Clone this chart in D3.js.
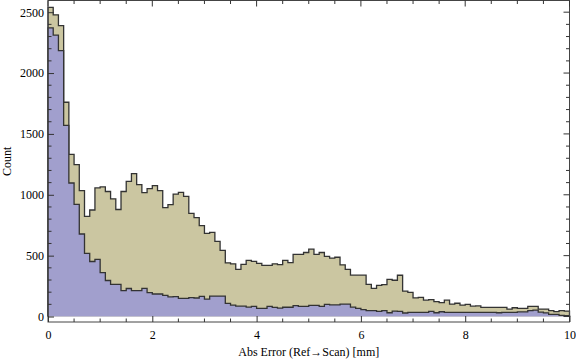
<!DOCTYPE html>
<html lang="en">
<head>
    <meta charset="UTF-8">
    <title>Abs Error histogram</title>
    <script src="https://d3js.org/d3.v7.min.js"></script>
    <style type="text/css">
        body { margin: 0; background: white; }
        text { font-family: "Liberation Serif", "DejaVu Serif", serif; fill: #000; }
    </style>
</head>
<body>
<script type="text/javascript">

    // histogram bins: 0.1 mm wide, starting at 0
    const binWidth = 0.1;

    // tan (all points)
    const countsAll = [
        2540, 2478, 2390, 1760, 1332, 1248, 1035, 822, 875, 1056,
        1065, 1027, 967, 879, 1027, 1110, 1174, 1084, 1018, 1051,
        1076, 1035, 895, 920, 1006, 1020, 987, 848, 812, 747,
        683, 692, 617, 544, 441, 433, 388, 428, 461, 453,
        436, 420, 420, 433, 426, 461, 442, 510, 510, 526,
        553, 510, 526, 494, 480, 487, 425, 387, 340, 340,
        340, 264, 231, 256, 262, 305, 298, 339, 209, 198,
        153, 158, 134, 138, 122, 114, 134, 102, 109, 94,
        100, 85, 87, 75, 75, 75, 75, 75, 61, 72,
        67, 67, 84, 84, 61, 61, 48, 40, 48, 45
    ];

    // blue (subset)
    const countsSub = [
        2371, 2311, 2185, 1570, 1097, 921, 678, 518, 452, 470,
        360, 296, 264, 264, 213, 230, 213, 213, 231, 197,
        185, 185, 174, 161, 164, 149, 149, 155, 152, 166,
        143, 168, 168, 168, 108, 93, 85, 85, 77, 84,
        67, 67, 84, 75, 69, 76, 76, 90, 84, 84,
        92, 92, 84, 100, 95, 95, 102, 102, 77, 67,
        56, 48, 48, 43, 48, 31, 44, 42, 29, 34,
        34, 34, 34, 42, 31, 39, 34, 34, 34, 34,
        34, 34, 34, 34, 34, 34, 31, 34, 34, 34,
        38, 38, 48, 53, 36, 30, 18, 18, 10, 7
    ];

    const xTicks = [0, 2, 4, 6, 8, 10];
    const yTicks = [0, 500, 1000, 1500, 2000, 2500];

    const width = 576, height = 362;
    const pLeft = 48, pRight = 569.5, pTop = 0.5, pBottom = 322;

    const svg = d3.select("body").append("svg")
        .attr("width", width)
        .attr("height", height);

    const x = d3.scaleLinear().domain([0, 10]).range([pLeft, pRight]);
    const y = d3.scaleLinear().domain([-45, 2596]).range([pBottom, pTop]);

    // step outline as an area
    function stepPoints(counts) {
        const pts = [];
        counts.forEach(function(c, i) {
            pts.push([i * binWidth, c]);
            pts.push([(i + 1) * binWidth, c]);
        });
        return pts;
    }

    function drawHist(counts, fill) {
        const pts = stepPoints(counts);
        const area = d3.area()
            .x(d => x(d[0]))
            .y0(y(0))
            .y1(d => y(d[1]));
        const line = d3.line()
            .x(d => x(d[0]))
            .y(d => y(d[1]));
        svg.append("path")
            .attr("d", area(pts))
            .attr("fill", fill);
        // close the outline down to the baseline at both ends
        const outline = [[0, 0]].concat(pts, [[pts[pts.length - 1][0], 0]]);
        svg.append("path")
            .attr("d", line(outline))
            .attr("fill", "none")
            .attr("stroke", "#333")
            .attr("stroke-width", 1.3);
    }

    drawHist(countsAll, "#cbc6a1");
    drawHist(countsSub, "#a19fcd");

    // frame
    svg.append("rect")
        .attr("x", pLeft)
        .attr("y", pTop)
        .attr("width", pRight - pLeft)
        .attr("height", pBottom - pTop)
        .attr("fill", "none")
        .attr("stroke", "#444")
        .attr("stroke-width", 1);

    // x ticks (major every 2, minor every 0.5), bottom and top
    const xAxisB = d3.axisBottom(x).tickValues(xTicks).tickSize(-6).tickFormat(d3.format("d"));
    const xMinor = d3.range(0, 10.01, 0.5).filter(v => v % 2 !== 0);

    const gxb = svg.append("g").attr("transform", `translate(0,${pBottom})`).call(xAxisB);
    gxb.select(".domain").remove();
    gxb.selectAll("text").attr("y", 8).style("font-size", "12px");
    gxb.selectAll("line").attr("stroke", "#333");
    gxb.selectAll(".minor").data(xMinor).enter().append("line")
        .attr("x1", d => x(d)).attr("x2", d => x(d))
        .attr("y1", 0).attr("y2", -3.5).attr("stroke", "#333");

    const gxt = svg.append("g").attr("transform", `translate(0,${pTop})`);
    gxt.selectAll(".maj").data(xTicks).enter().append("line")
        .attr("x1", d => x(d)).attr("x2", d => x(d))
        .attr("y1", 0).attr("y2", 6).attr("stroke", "#333");
    gxt.selectAll(".min").data(xMinor).enter().append("line")
        .attr("x1", d => x(d)).attr("x2", d => x(d))
        .attr("y1", 0).attr("y2", 3.5).attr("stroke", "#333");

    // y ticks (major every 500, minor every 100), left and right
    const yMinor = d3.range(0, 2600, 100).filter(v => v % 500 !== 0);
    const yAxisL = d3.axisLeft(y).tickValues(yTicks).tickSize(-6).tickFormat(d3.format("d"));
    const gyl = svg.append("g").attr("transform", `translate(${pLeft},0)`).call(yAxisL);
    gyl.select(".domain").remove();
    gyl.selectAll("text").attr("x", -4).style("font-size", "12px");
    gyl.selectAll("line").attr("stroke", "#333");
    gyl.selectAll(".minor").data(yMinor).enter().append("line")
        .attr("x1", 0).attr("x2", 3.5)
        .attr("y1", d => y(d)).attr("y2", d => y(d)).attr("stroke", "#333");

    const gyr = svg.append("g").attr("transform", `translate(${pRight},0)`);
    gyr.selectAll(".maj").data(yTicks).enter().append("line")
        .attr("x1", 0).attr("x2", -6)
        .attr("y1", d => y(d)).attr("y2", d => y(d)).attr("stroke", "#333");
    gyr.selectAll(".min").data(yMinor).enter().append("line")
        .attr("x1", 0).attr("x2", -3.5)
        .attr("y1", d => y(d)).attr("y2", d => y(d)).attr("stroke", "#333");

    // axis titles
    svg.append("text")
        .attr("x", (pLeft + pRight) / 2)
        .attr("y", 356)
        .attr("text-anchor", "middle")
        .style("font-size", "12px")
        .text("Abs Error (Ref\u2192Scan) [mm]");

    svg.append("text")
        .attr("transform", `translate(11,${(pTop + pBottom) / 2}) rotate(-90)`)
        .attr("text-anchor", "middle")
        .style("font-size", "12px")
        .text("Count");

</script>
</body>
</html>
